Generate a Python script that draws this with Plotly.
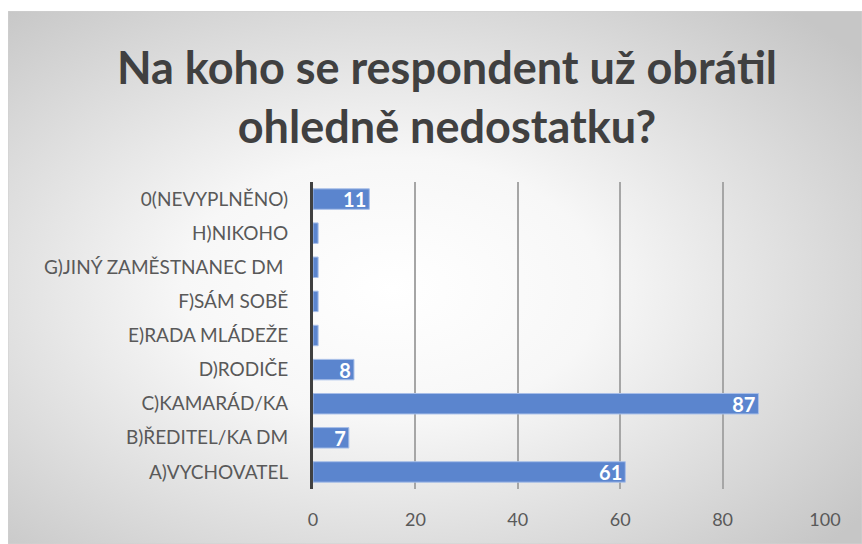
import base64
import plotly.graph_objects as go

categories = [
    "A)VYCHOVATEL",
    "B)ŘEDITEL/KA DM",
    "C)KAMARÁD/KA",
    "D)RODIČE",
    "E)RADA MLÁDEŽE",
    "F)SÁM SOBĚ",
    "G)JINÝ ZAMĚSTNANEC DM\u00a0",
    "H)NIKOHO",
    "0(NEVYPLNĚNO)",
]
counts = [61, 7, 87, 8, 1, 1, 1, 1, 11]
x_ticks = [0, 20, 40, 60, 80, 100]

# labels only where they fit inside the bar
labels = [str(v) if v >= 5 else "" for v in counts]

W, H = 862, 544
L, R, T, B = 313, 37, 182, 55
pw, ph = W - L - R, H - T - B

svg = """<svg xmlns='http://www.w3.org/2000/svg' width='854' height='533' viewBox='0 0 854 533' preserveAspectRatio='none'>
<defs><radialGradient id='g' cx='45%' cy='52%' r='70%'>
<stop offset='0' stop-color='#ffffff'/>
<stop offset='0.35' stop-color='#f7f7f7'/>
<stop offset='1' stop-color='#c6c6c6'/>
</radialGradient></defs>
<rect x='0' y='0' width='854' height='533' fill='url(#g)' stroke='#d0d0d0' stroke-width='1'/>
</svg>"""
bg = "data:image/svg+xml;base64," + base64.b64encode(svg.encode()).decode()

fig = go.Figure(go.Bar(
    x=counts,
    y=categories,
    orientation="h",
    marker=dict(color="#5B85CE", line=dict(color="#A8BFE8", width=1)),
    text=labels,
    textposition="inside",
    insidetextanchor="end",
    textangle=0,
    textfont=dict(family="Lato", size=20, color="white", weight="bold"),
    cliponaxis=False,
))

fig.update_layout(
    width=W, height=H,
    margin=dict(l=L, r=R, t=T, b=B),
    paper_bgcolor="white",
    plot_bgcolor="rgba(0,0,0,0)",
    bargap=0.4,
    showlegend=False,
    uniformtext=dict(minsize=20, mode="show"),
    title=dict(
        text="<b>Na koho se respondent už obrátil<br>ohledně nedostatku?</b>",
        x=447 / W, xanchor="center",
        y=1 - 84 / H, yanchor="middle",
        font=dict(family="Lato", size=45, color="#404040"),
    ),
    font=dict(family="Lato", size=18, color="#595959"),
    xaxis=dict(
        range=[0, 100], tickvals=x_ticks,
        showgrid=True, gridcolor="#A6A6A6", gridwidth=1.5,
        zeroline=False, showline=False,
        ticks="", ticklabelstandoff=18,
        tickfont=dict(size=18, color="#595959"),
    ),
    yaxis=dict(
        showline=True, linecolor="#404040", linewidth=3,
        ticks="", ticklabelstandoff=18,
        tickfont=dict(size=19, color="#595959"),
    ),
    images=[dict(
        source=bg, xref="paper", yref="paper",
        x=-(L - 8) / pw, y=1 + (T - 11) / ph,
        sizex=(W - 8) / pw, sizey=(H - 11) / ph,
        xanchor="left", yanchor="top",
        sizing="stretch", layer="below",
    )],
)

fig.write_html(
    "out.html",
    config={"displayModeBar": False},
    post_script="document.body.style.margin='0';document.body.style.padding='0';",
)
